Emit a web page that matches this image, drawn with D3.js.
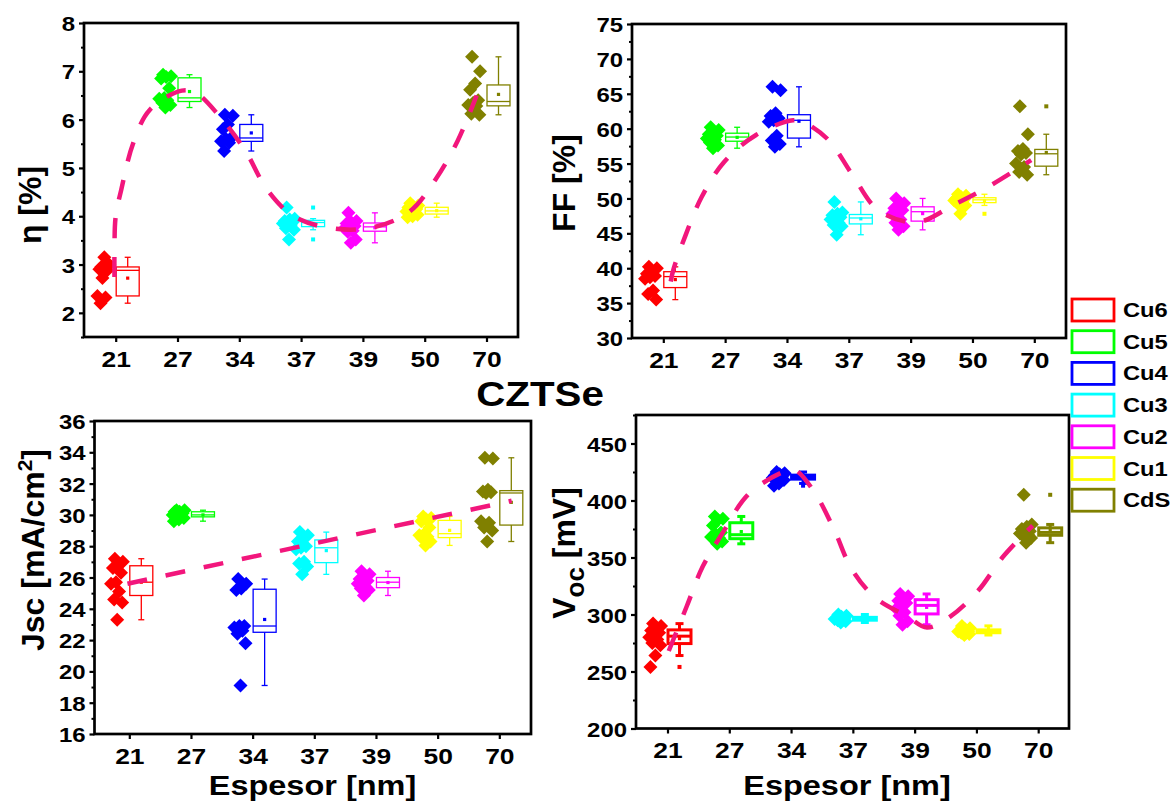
<!DOCTYPE html>
<html><head><meta charset="utf-8">
<script src="https://cdn.jsdelivr.net/npm/d3@7"></script>
<style>
body{margin:0;background:#fff}
svg text{font-family:"Liberation Sans",Arial,sans-serif;font-weight:bold;fill:#000}
</style>
</head><body>
<svg id="c" width="1176" height="801"></svg>
<script>
// ---------------- DATA ----------------
const categories = ["21", "27", "34", "37", "39", "50", "70"];
const legendLabels = ["Cu6", "Cu5", "Cu4", "Cu3", "Cu2", "Cu1", "CdS"];

const etaTicks = [2, 3, 4, 5, 6, 7, 8];
const ffTicks = [30, 35, 40, 45, 50, 55, 60, 65, 70, 75];
const jscTicks = [16, 18, 20, 22, 24, 26, 28, 30, 32, 34, 36];
const vocTicks = [200, 250, 300, 350, 400, 450];

const etaValues = [
  [2.95, 3.0, 3.15, 2.9, 2.88, 2.72, 2.35, 2.32, 2.2],
  [6.93, 6.9, 6.88, 6.85, 6.65, 6.45, 6.43, 6.4, 6.35, 6.3, 6.25],
  [6.1, 6.08, 5.9, 5.8, 5.62, 5.6, 5.55, 5.52, 5.35],
  [4.18, 3.95, 3.93, 3.9, 3.88, 3.87, 3.85, 3.82, 3.75, 3.72, 3.52],
  [4.07, 3.9, 3.87, 3.85, 3.8, 3.78, 3.75, 3.7, 3.68, 3.52, 3.45],
  [4.27, 4.22, 4.2, 4.18, 4.15, 4.12, 4.1, 4.08, 4.05, 4.03, 4.0, 3.98],
  [7.3, 7.0, 6.75, 6.62, 6.4, 6.35, 6.3, 6.28, 6.12, 6.1]
];
const ffValues = [
  [40.2, 40.0, 39.6, 39.2, 38.9, 38.7, 38.5, 36.8, 36.3, 35.5],
  [60.2, 59.8, 59.5, 59.2, 59.0, 58.8, 58.6, 58.4, 58.0, 57.6, 57.2],
  [66.0, 65.5, 62.2, 61.8, 61.5, 61.2, 61.0, 59.0, 58.3, 57.8, 57.4],
  [49.5, 48.0, 47.8, 47.6, 47.3, 47.2, 47.0, 46.5, 46.2, 46.0, 44.8],
  [50.0, 49.3, 49.0, 48.6, 48.3, 48.1, 47.8, 47.0, 46.5, 46.0, 45.5],
  [50.6, 50.4, 50.2, 50.0, 49.9, 49.8, 49.7, 49.5, 49.3, 49.0, 47.8],
  [63.2, 59.2, 57.1, 56.8, 56.5, 56.3, 55.0, 54.5, 53.8, 53.4]
];
const jscValues = [
  [27.2, 27.0, 26.9, 26.6, 26.3, 25.7, 25.6, 25.1, 24.6, 24.4, 23.3],
  [30.3, 30.3, 30.2, 30.2, 30.1, 30.0, 30.0, 29.9, 29.9, 29.8, 29.7, 29.6],
  [25.9, 25.6, 25.3, 25.2, 22.9, 22.9, 22.8, 22.6, 22.4, 21.8, 19.1],
  [28.9, 28.7, 28.5, 28.3, 28.0, 27.9, 27.8, 27.0, 26.9, 26.7, 26.2],
  [26.4, 26.2, 26.1, 25.9, 25.8, 25.7, 25.6, 25.4, 25.3, 25.2, 24.85],
  [29.9, 29.8, 29.7, 29.6, 29.2, 28.8, 28.7, 28.6, 28.5, 28.3, 28.05],
  [33.65, 33.6, 31.6, 31.5, 31.45, 31.4, 29.6, 29.5, 29.2, 29.0, 28.3]
];
const vocValues = [
  [292, 290, 288, 286, 284, 282, 280, 278, 275, 273, 264, 254],
  [386, 384, 383, 378, 372, 370, 368, 367, 366, 364, 362],
  [425, 424, 423, 422, 422, 421, 420, 420, 419, 418, 415, 413],
  [300, 299, 298, 297, 297, 296, 296, 295, 295, 294, 293],
  [318, 316, 314, 312, 310, 308, 305, 302, 299, 294, 291],
  [290, 288, 287, 286, 285, 285, 285, 284, 284, 283, 282],
  [405, 379, 377, 375, 373, 372, 371, 370, 369, 367, 363]
];

// trend guide lines: [category position, value]
const etaTrend = [[-0.02, 2.74], [-0.02, 3.3], [0.0, 4.0], [0.09, 4.55], [0.28, 5.5], [0.55, 6.2], [1.07, 6.6], [1.3, 6.55], [1.66, 6.1], [2.1, 5.35], [2.45, 4.55], [2.88, 4.0], [3.5, 3.75], [4.17, 3.77], [4.76, 4.1], [5.17, 4.75], [5.53, 5.55], [5.84, 6.5]];
const ffTrend = [[0.12, 38.1], [0.17, 40.0], [0.35, 44.5], [0.62, 50.2], [0.98, 55.2], [1.5, 59.1], [2.1, 61.2], [2.3, 60.8], [2.68, 58.3], [3.05, 53.5], [3.48, 48.3], [4.1, 46.6], [4.7, 49.1], [5.26, 51.7], [5.95, 55.5]];
const jscTrend = [[-0.03, 25.6], [6.2, 30.9]];
const vocTrend = [[0.02, 268], [0.31, 307], [0.57, 342], [0.92, 374], [1.3, 405], [1.85, 424.5], [2.05, 427], [2.37, 408], [2.7, 374], [2.98, 340], [3.36, 315], [3.89, 298], [4.2, 288.5], [4.57, 298], [5.03, 321], [5.42, 350], [5.91, 378]];

// ---------------- STYLE / LAYOUT ----------------
const groupColors = ["#ff0000", "#00ff00", "#0000ff", "#00ffff", "#ff00ff", "#ffff00", "#808000"];
const TREND = "#f2167c";
const SXY = 1.14, SXX = 1.2, SXT = 1.16;
const svg = d3.select("#c");

function stats(vals) {
  const s = vals.slice().sort(d3.ascending);
  const q1 = d3.quantile(s, 0.25), med = d3.quantile(s, 0.5), q3 = d3.quantile(s, 0.75);
  const iqr = q3 - q1, lo = q1 - 1.5 * iqr, hi = q3 + 1.5 * iqr;
  const inside = s.filter(v => v >= lo && v <= hi);
  return {q1, med, q3, mean: d3.mean(s), wlo: d3.min(inside), whi: d3.max(inside),
          out: s.filter(v => v < lo || v > hi)};
}
function jitter(i) { const f = (i * 0.618034 + 0.35) % 1; return -19 + 13 * f; }
const diamond = r => `M0,${-r}L${r},0L0,${r}L${-r},0Z`;

function drawPanel(p) {
  const [L, T, R, B] = p.frame;
  const g = svg.append("g");
  const x = d3.scalePoint().domain(categories).range(p.t);
  const xc = d3.scaleLinear().domain([0, categories.length - 1]).range(p.t);
  const y = d3.scaleLinear().domain(p.domain).range([B, T]);

  const minor = d3.range(p.domain[0], p.domain[1] + 1e-9, p.minorStep).filter(v => !p.ticks.some(t => Math.abs(t - v) < 1e-9));
  const mi = g.append("g").attr("transform", `translate(${L},0)`)
    .call(d3.axisLeft(y).tickValues(minor).tickSize(3).tickFormat(""));
  mi.select(".domain").remove();
  mi.selectAll("line").attr("stroke", "#000").attr("stroke-width", 2);

  const ya = g.append("g").attr("transform", `translate(${L},0)`)
    .call(d3.axisLeft(y).tickValues(p.ticks).tickSize(5).tickFormat(d3.format("d")));
  ya.attr("font-size", null).attr("font-family", null);
  ya.select(".domain").remove();
  ya.selectAll("line").attr("stroke", "#000").attr("stroke-width", 2.2);
  ya.selectAll("text").attr("x", -9 / SXY).attr("dy", "0.36em")
    .attr("transform", `scale(${SXY},1)`).style("font-size", "21px").attr("fill", "#000");

  const xa = g.append("g").attr("transform", `translate(0,${B})`)
    .call(d3.axisBottom(x).tickSize(5).tickPadding(8.9));
  xa.attr("font-size", null).attr("font-family", null);
  xa.select(".domain").remove();
  xa.selectAll("line").attr("stroke", "#000").attr("stroke-width", 2.2);
  xa.selectAll("text").attr("transform", `scale(${SXX},1)`).style("font-size", "22px").attr("fill", "#000");

  p.values.forEach((vals, j) => {
    const cx = x(categories[j]);
    const col = groupColors[j];
    g.append("g").selectAll("path").data(vals).join("path")
      .attr("d", diamond(7))
      .attr("transform", (v, i) => `translate(${cx + jitter(i)},${y(v)})`)
      .attr("fill", col);

    const s = stats(vals);
    const bx = cx + 0.5, bw = 23, mid = bx + bw / 2;
    const bg = g.append("g").attr("stroke", col).attr("fill", "none").attr("stroke-width", p.boxW);
    bg.append("line").attr("x1", mid).attr("x2", mid).attr("y1", y(s.q1)).attr("y2", y(s.wlo));
    bg.append("line").attr("x1", mid).attr("x2", mid).attr("y1", y(s.q3)).attr("y2", y(s.whi));
    [s.wlo, s.whi].forEach(v => bg.append("line").attr("x1", mid - p.cap).attr("x2", mid + p.cap).attr("y1", y(v)).attr("y2", y(v)));
    bg.append("rect").attr("x", bx).attr("y", y(s.q3)).attr("width", bw).attr("height", Math.max(0.5, y(s.q1) - y(s.q3)));
    bg.append("line").attr("x1", bx).attr("x2", bx + bw).attr("y1", y(s.med)).attr("y2", y(s.med));
    g.append("rect").attr("x", mid - 1.6).attr("y", y(s.mean) - 1.6).attr("width", 3.2).attr("height", 3.2).attr("fill", col);
    s.out.forEach(v => g.append("rect").attr("x", mid - 2).attr("y", y(v) - 2).attr("width", 4).attr("height", 4).attr("fill", col));
  });

  const line = d3.line().x(d => xc(d[0])).y(d => y(d[1])).curve(d3.curveCatmullRom.alpha(0.5));
  g.append("path").attr("d", line(p.trend)).attr("fill", "none").attr("stroke", TREND)
    .attr("stroke-width", 4.5).attr("stroke-dasharray", "20,19");

  g.append("rect").attr("x", L).attr("y", T).attr("width", R - L).attr("height", B - T)
    .attr("fill", "none").attr("stroke", "#000").attr("stroke-width", 2.7);

  const tt = g.append("text").attr("transform", `translate(${p.titleX},${p.titleY}) rotate(-90)`)
    .attr("text-anchor", "middle").style("font-size", "32px");
  p.title(tt);
}

const panels = [
  {values: etaValues, trend: etaTrend, ticks: etaTicks, minorStep: 0.5, domain: [1.5, 8],
   frame: [84, 23, 518, 337], t: [115.7, 486.5], boxW: 1.3, cap: 3,
   titleX: 41, titleY: 205, title: t => t.text("η [%]")},
  {values: ffValues, trend: ffTrend, ticks: ffTicks, minorStep: 2.5, domain: [30, 75],
   frame: [632, 24, 1066, 338], t: [663.3, 1034.3], boxW: 1.3, cap: 3,
   titleX: 575, titleY: 183, title: t => t.text("FF [%]")},
  {values: jscValues, trend: jscTrend, ticks: jscTicks, minorStep: 1, domain: [16, 36],
   frame: [94.5, 421, 531, 734], t: [129.3, 499.3], boxW: 1.3, cap: 3,
   titleX: 44, titleY: 550, title: t => {
     t.append("tspan").text("Jsc [mA/cm");
     t.append("tspan").text("2").attr("dy", -12).style("font-size", "21px");
     t.append("tspan").text("]").attr("dy", 12);
   }},
  {values: vocValues, trend: vocTrend, ticks: vocTicks, minorStep: 25, domain: [200, 475],
   frame: [636, 415, 1069, 728.5], t: [667.5, 1038.2], boxW: 3, cap: 4,
   titleX: 575, titleY: 553, title: t => {
     t.append("tspan").text("V");
     t.append("tspan").text("oc").attr("dy", 9).style("font-size", "26px");
     t.append("tspan").text(" [mV]").attr("dy", -9);
   }}
];
panels.forEach(drawPanel);

function hText(x, y, str, size, sx) {
  svg.append("text").attr("transform", `translate(${x},${y}) scale(${sx},1)`)
    .attr("text-anchor", "middle").style("font-size", size + "px").text(str);
}
hText(312.5, 795, "Espesor [nm]", 28, SXT);
hText(847, 795, "Espesor [nm]", 28, SXT);
hText(540, 406, "CZTSe", 36, 1.12);

const lg = svg.append("g");
legendLabels.forEach((lab, i) => {
  const yy = 299 + i * 31.7;
  lg.append("rect").attr("x", 1072).attr("y", yy).attr("width", 42).attr("height", 22)
    .attr("fill", "none").attr("stroke", groupColors[i]).attr("stroke-width", 2.8);
  lg.append("text").attr("transform", `translate(1123,${yy + 18}) scale(1.13,1)`)
    .style("font-size", "21px").text(lab);
});
</script>
</body></html>
